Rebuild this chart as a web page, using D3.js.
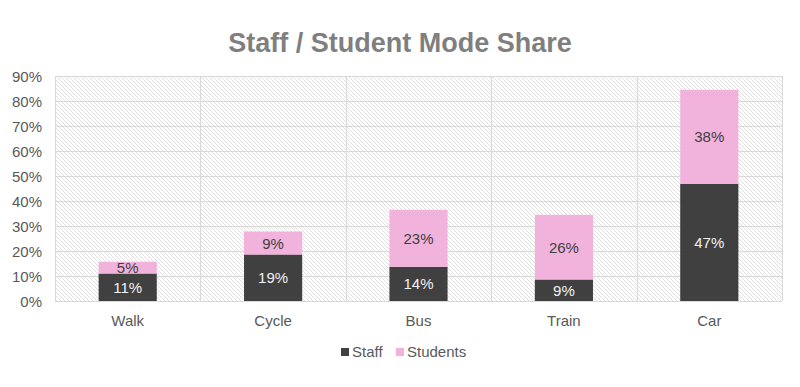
<!DOCTYPE html>
<html><head><meta charset="utf-8">
<script src="https://cdn.jsdelivr.net/npm/d3@7"></script>
<style>body{margin:0;background:#fff}svg{display:block;font-family:"Liberation Sans",Arial,sans-serif}</style>
</head><body><svg id="c" width="800" height="387"></svg>
<script>
const categories = ["Walk","Cycle","Bus","Train","Car"];
const staff = [11.0, 18.6, 13.7, 8.6, 46.9];
const students = [4.7, 9.2, 22.8, 25.9, 37.6];
const yTicks = [0,10,20,30,40,50,60,70,80,90];
const seriesNames = ["Staff","Students"];

const svg = d3.select("#c");
const m = {l:55, r:18, t:76, b:86};
const W = 800, H = 387;
const x = d3.scaleBand().domain(categories).range([m.l, W-m.r]).paddingInner(0).paddingOuter(0);
const y = d3.scaleLinear().domain([0,90]).range([H-m.b, m.t]);

const defs = svg.append("defs");
const pat = defs.append("pattern").attr("id","hatch").attr("patternUnits","userSpaceOnUse")
  .attr("width",4).attr("height",4);
pat.append("rect").attr("width",4).attr("height",4).attr("fill","#fff");
pat.append("path").attr("d","M-1,-1 L5,5 M-1,3 L1,5 M3,-1 L5,1").attr("stroke","#dcdcdc").attr("stroke-width",0.9);

svg.append("rect").attr("x",m.l).attr("y",m.t).attr("width",W-m.r-m.l).attr("height",H-m.b-m.t).attr("fill","url(#hatch)");

// gridlines
svg.append("g").selectAll("line").data(yTicks).join("line")
  .attr("x1",m.l).attr("x2",W-m.r).attr("y1",d=>Math.round(y(d))+0.5).attr("y2",d=>Math.round(y(d))+0.5)
  .attr("stroke","#d9d9d9").attr("stroke-width",1);
// vertical separators
const seps = categories.map(c=>x(c)).concat([x.range()[1]]);
svg.append("g").selectAll("line").data(seps).join("line")
  .attr("x1",d=>Math.round(d)+0.5).attr("x2",d=>Math.round(d)+0.5).attr("y1",m.t).attr("y2",H-m.b)
  .attr("stroke","#d9d9d9");

// y axis labels
svg.append("g").selectAll("text").data(yTicks).join("text")
  .attr("x",m.l-13).attr("y",d=>y(d)+5.5).attr("text-anchor","end")
  .attr("font-size",15).attr("fill","#595959").text(d=>d+"%");

// bars
const bw = x.bandwidth()*0.4;
const g = svg.append("g");
categories.forEach((c,i)=>{
  const cx = x(c)+x.bandwidth()/2;
  g.append("rect").attr("x",cx-bw/2).attr("width",bw).attr("y",y(staff[i])).attr("height",y(0)-y(staff[i])).attr("fill","#404040");
  g.append("rect").attr("x",cx-bw/2).attr("width",bw).attr("y",y(staff[i]+students[i])).attr("height",y(staff[i])-y(staff[i]+students[i])).attr("fill","#f1b2dc");
  g.append("text").attr("x",cx).attr("y",(y(0)+y(staff[i]))/2+5.5).attr("text-anchor","middle")
    .attr("font-size",15).attr("fill","#f2f2f2").text(Math.round(staff[i])+"%");
  g.append("text").attr("x",cx).attr("y",(y(staff[i])+y(staff[i]+students[i]))/2+5.5).attr("text-anchor","middle")
    .attr("font-size",15).attr("fill","#404040").text(Math.round(students[i])+"%");
});

// x labels
svg.append("g").selectAll("text").data(categories).join("text")
  .attr("x",d=>x(d)+x.bandwidth()/2).attr("y",H-m.b+25).attr("text-anchor","middle")
  .attr("font-size",15).attr("fill","#595959").text(d=>d);

// title
svg.append("text").attr("x",400).attr("y",52).attr("text-anchor","middle")
  .attr("font-size",27).attr("font-weight","bold").attr("fill","#7f7f7f").text("Staff / Student Mode Share");

// legend
const lg = svg.append("g");
const colors = ["#404040","#f1b2dc"];
const lx = [341, 396];
seriesNames.forEach((s,i)=>{
  lg.append("rect").attr("x",lx[i]).attr("y",348).attr("width",8).attr("height",8).attr("fill",colors[i]);
  lg.append("text").attr("x",lx[i]+11).attr("y",357).attr("font-size",15).attr("fill","#595959").text(s);
});
</script></body></html>
